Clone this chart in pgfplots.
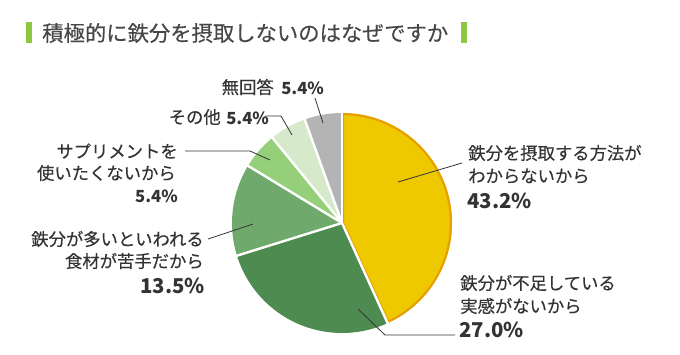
\documentclass[border=0pt]{standalone}
\usepackage{pgfplots}
\pgfplotsset{compat=1.18}
\usepackage{fontspec}
\setmainfont{Noto Sans CJK JP}
\newfontfamily\medfont{Noto Sans CJK JP}[FakeBold=0.35]
\definecolor{cYel}{HTML}{EFC900}
\definecolor{cOra}{HTML}{E79E00}
\definecolor{cDk}{HTML}{4E8B50}
\definecolor{cMd}{HTML}{70A96C}
\definecolor{cLt}{HTML}{96CF7A}
\definecolor{cVl}{HTML}{D6EACB}
\definecolor{cGr}{HTML}{B4B4B4}
\definecolor{cTxt}{HTML}{333333}
\definecolor{cBar}{HTML}{8DC63F}
\newcommand{\lab}{\medfont\fontsize{13}{17}\selectfont}
\newcommand{\pbig}{\fontsize{15.3}{18}\selectfont\bfseries}
\newcommand{\psm}{\fontsize{12.5}{15}\selectfont\bfseries}
\begin{document}
\begin{tikzpicture}
\begin{axis}[scale only axis, width=510pt, height=265.5pt,
  xmin=0, xmax=680, ymin=0, ymax=354, y dir=reverse,
  hide axis, clip=false]
\pgfplotsextra{
  \path (axis cs:0,0) rectangle (axis cs:680,354);
  % pie slices (percent values), clockwise from 12 o'clock
  \def\startangle{90}
  \foreach \v/\c in {43.2/cYel, 27.0/cDk, 13.5/cMd, 5.4/cLt, 5.4/cVl, 5.4/cGr} {
    \pgfmathsetmacro\endangle{\startangle - 3.6*\v}
    \fill[\c] (axis cs:342,223) -- ++(\startangle:82.5pt)
       arc[start angle=\startangle, end angle=\endangle, radius=82.5pt] -- cycle;
    \xdef\startangle{\endangle}
  }
  % orange border of the first slice
  \begin{scope}
    \clip (axis cs:342,223) -- ++(90:82.5pt) arc[start angle=90, end angle=-65.52, radius=82.5pt] -- cycle;
    \draw[cOra, line width=3.2pt] (axis cs:342,223) -- ++(90:82.5pt) arc[start angle=90, end angle=-65.52, radius=82.5pt] -- cycle;
  \end{scope}
  % white separators
  \def\startangle{90}
  \foreach \v in {43.2, 27.0, 13.5, 5.4, 5.4, 5.4} {
    \draw[white, line width=1.8pt] (axis cs:342,223) -- ++(\startangle:83pt);
    \pgfmathsetmacro\endangle{\startangle - 3.6*\v}
    \xdef\startangle{\endangle}
  }
  % title
  \fill[cBar] (axis cs:26,22) rectangle (axis cs:32,43);
  \fill[cBar] (axis cs:461,22) rectangle (axis cs:467,43);
  \node[anchor=west, inner sep=0, text=cTxt!90!white, font=\medfont\fontsize{16}{20}\selectfont] at (axis cs:42,33) {積極的に鉄分を摂取しないのはなぜですか};
  % leader lines
  \draw[cTxt, line width=0.6pt] (axis cs:398,182) -- (axis cs:462,163);
  \draw[cTxt, line width=0.6pt] (axis cs:358,309) -- (axis cs:385,335) -- (axis cs:455,335);
  \draw[cTxt, line width=0.6pt] (axis cs:208,239) -- (axis cs:253,224);
  \draw[cTxt, line width=0.6pt] (axis cs:185,151) -- (axis cs:250,151) -- (axis cs:270,160);
  \draw[cTxt, line width=0.6pt] (axis cs:265,116) -- (axis cs:281,116) -- (axis cs:292,135);
  \draw[cTxt, line width=0.6pt] (axis cs:315,98) -- (axis cs:323,123);
  % right labels
  \node[anchor=west, inner sep=0, text=cTxt, font=\lab] at (axis cs:468,153) {鉄分を摂取する方法が};
  \node[anchor=west, inner sep=0, text=cTxt, font=\lab] at (axis cs:468,176) {わからないから};
  \node[anchor=west, inner sep=0, text=cTxt, font=\pbig] at (axis cs:467,201) {43.2\%};
  \node[anchor=west, inner sep=0, text=cTxt, font=\lab] at (axis cs:460,283) {鉄分が不足している};
  \node[anchor=west, inner sep=0, text=cTxt, font=\lab] at (axis cs:460,306) {実感がないから};
  \node[anchor=west, inner sep=0, text=cTxt, font=\pbig] at (axis cs:459,330) {27.0\%};
  % left labels
  \node[anchor=east, inner sep=0, text=cTxt, font=\lab] at (axis cs:178,151) {サプリメントを};
  \node[anchor=east, inner sep=0, text=cTxt, font=\lab] at (axis cs:176,173) {使いたくないから};
  \node[anchor=east, inner sep=0, text=cTxt, font=\psm] at (axis cs:178,196) {5.4\%};
  \node[anchor=east, inner sep=0, text=cTxt, font=\lab] at (axis cs:204,239) {鉄分が多いといわれる};
  \node[anchor=east, inner sep=0, text=cTxt, font=\lab] at (axis cs:204,261) {食材が苦手だから};
  \node[anchor=east, inner sep=0, text=cTxt, font=\pbig] at (axis cs:205,286) {13.5\%};
  % top labels
  \node[anchor=east, inner sep=0, text=cTxt, font=\lab] at (axis cs:274,87) {無回答};
  \node[anchor=west, inner sep=0, text=cTxt, font=\psm] at (axis cs:281,88) {5.4\%};
  \node[anchor=east, inner sep=0, text=cTxt, font=\lab] at (axis cs:221,117) {その他};
  \node[anchor=west, inner sep=0, text=cTxt, font=\psm] at (axis cs:226,118) {5.4\%};
}
\end{axis}
\end{tikzpicture}
\end{document}
